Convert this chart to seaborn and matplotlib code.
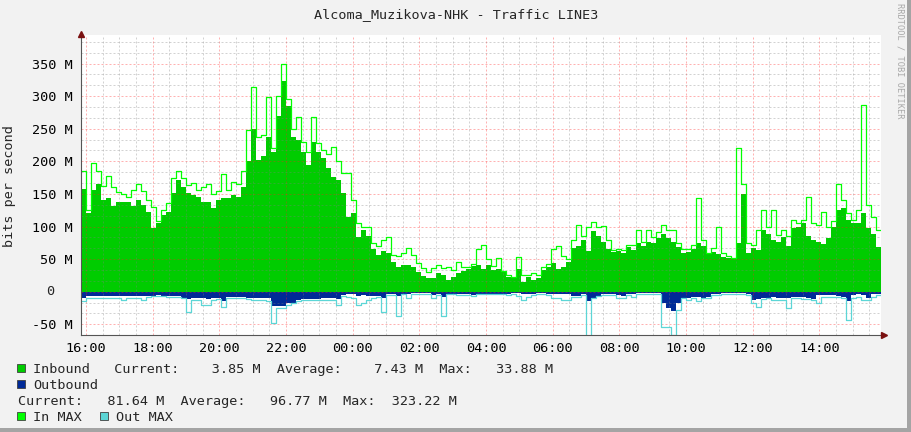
import numpy as np
import pandas as pd
import matplotlib
matplotlib.use("Agg")
import matplotlib.pyplot as plt
import matplotlib.dates as mdates
from matplotlib.ticker import MultipleLocator, FuncFormatter
from matplotlib.patches import Rectangle
import seaborn as sns

# traffic values in Mbit/s, one value per 9 minute step starting 15:51
inbound = [
    158, 120, 156, 165, 140, 144, 132, 138, 138, 138,
    132, 140, 133, 122, 97, 105, 118, 122, 151, 171,
    161, 152, 148, 146, 137, 138, 128, 141, 144, 144,
    148, 146, 160, 200, 250, 202, 208, 238, 215, 270,
    323, 285, 238, 232, 215, 194, 230, 215, 205, 190,
    176, 171, 151, 115, 120, 84, 94, 85, 66, 57,
    62, 60, 45, 38, 41, 41, 38, 30, 24, 21,
    21, 29, 26, 18, 22, 29, 32, 35, 39, 41,
    35, 41, 34, 35, 30, 22, 21, 35, 15, 22,
    18, 21, 34, 38, 44, 35, 38, 46, 67, 70,
    80, 63, 93, 86, 76, 65, 61, 63, 60, 68,
    64, 75, 70, 76, 75, 82, 88, 83, 77, 69,
    59, 61, 66, 74, 70, 58, 61, 58, 53, 51,
    50, 75, 150, 60, 67, 64, 95, 88, 80, 76,
    84, 70, 98, 100, 105, 85, 79, 76, 73, 82,
    100, 125, 128, 110, 105, 105, 120, 97, 88, 68,
]
in_max = [
    185, 125, 198, 185, 162, 177, 160, 153, 150, 146,
    156, 165, 155, 140, 130, 108, 125, 136, 175, 185,
    174, 163, 167, 156, 160, 166, 150, 155, 180, 156,
    168, 166, 185, 248, 314, 238, 240, 299, 220, 300,
    350, 295, 250, 268, 230, 215, 268, 228, 217, 212,
    222, 200, 182, 182, 140, 105, 100, 100, 75, 70,
    80, 84, 56, 55, 60, 67, 56, 44, 36, 31,
    36, 41, 36, 38, 34, 46, 38, 38, 42, 65,
    72, 50, 40, 51, 32, 26, 23, 54, 26, 25,
    28, 26, 38, 42, 65, 70, 55, 50, 80, 102,
    85, 100, 107, 100, 101, 80, 64, 66, 64, 72,
    72, 95, 76, 95, 84, 92, 102, 95, 95, 75,
    65, 66, 72, 144, 80, 60, 67, 100, 60, 55,
    52, 220, 165, 75, 72, 95, 125, 100, 125, 87,
    95, 86, 110, 105, 110, 146, 105, 102, 123, 100,
    108, 166, 141, 120, 110, 125, 286, 133, 115, 95,
]
outbound = [
    -9, -6.5, -6.5, -6.5, -6.5, -6.5, -6.5, -6.5, -6.5, -7,
    -7, -7, -7, -7, -6, -5, -6, -7, -7, -7,
    -9, -11, -9, -9, -10, -11, -9, -9, -14, -8,
    -8, -8, -8, -10, -10, -10, -10, -10, -22, -22,
    -22, -18, -17, -12, -11, -11, -11, -11, -10, -9,
    -9, -11, -5, -4, -4, -6, -5, -6, -7, -6,
    -10, -4, -4, -6, -3, -3, -2.5, -2.5, -2.5, -2.5,
    -5, -4, -8, -3, -3, -4, -4, -3, -5, -3,
    -3, -3, -3, -3, -3, -4, -2, -2, -4, -4,
    -4, -2, -2, -3, -3, -3, -4, -4, -7, -6,
    -4, -14, -9, -6, -4, -4, -3.5, -5, -6, -3.5,
    -3.5, -2.5, -2.5, -2.5, -2.5, -2.5, -18, -25, -30, -18,
    -9, -10, -8, -8, -9, -8, -3.5, -3.5, -2.5, -2.5,
    -2.5, -2.5, -2.5, -4, -13, -11, -10, -9, -8, -10,
    -10, -10, -8, -8, -8, -10, -11, -5, -5, -5,
    -5, -7, -8, -15, -5, -4, -5, -10, -4, -4,
]
out_max = [
    -15, -9, -9, -9, -9, -9, -9, -10, -12, -10,
    -10, -10, -12, -8, -7, -7, -7, -8, -8, -8,
    -10, -31, -13, -13, -20, -20, -13, -11, -24, -9,
    -9, -9, -10, -11, -13, -13, -13, -15, -48, -25,
    -25, -20, -18, -14, -13, -13, -13, -12, -12, -12,
    -12, -20, -7, -8, -10, -20, -18, -13, -10, -8,
    -31, -5, -5, -38, -4, -10, -3.5, -3.5, -3.5, -3.5,
    -10, -5, -38, -4, -4, -5, -5, -5, -6, -4,
    -4, -4, -4, -4, -4, -5, -3, -6, -13, -8,
    -5, -3, -3, -5, -10, -10, -13, -13, -8, -8,
    -5, -69, -10, -7, -5, -5, -4.5, -10, -10, -4.5,
    -7.7, -3.5, -3.5, -3.5, -3.5, -3.5, -54, -54, -67, -28,
    -10, -13, -9, -15, -10, -9, -4.5, -4.5, -3.5, -3.5,
    -3.5, -3.5, -3.5, -5, -18, -23, -11, -10, -13, -13,
    -13, -25, -10, -9, -11, -11, -12, -18, -8, -8,
    -8, -8, -9, -43, -10, -8, -13, -13, -8, -5,
]

title = "Alcoma_Muzikova-NHK - Traffic LINE3"
legend_rows = [
    "Inbound   Current:    3.85 M  Average:    7.43 M  Max:   33.88 M",
    "Outbound",
    "Current:   81.64 M  Average:   96.77 M  Max:  323.22 M",
]

W, H = 911, 432
BACK = "#F2F2F2"
IN_COLOR = "#00CC00"
OUT_COLOR = "#002A97"
INMAX_COLOR = "#00FF00"
OUTMAX_COLOR = "#5CD6D6"
FONT = 9.7


def fx(px):
    return px / W


def fy(py):
    return 1 - py / H


sns.set_style("white")
plt.rcParams["font.family"] = ["DejaVu Sans Mono"]

times = pd.date_range("2024-01-01 15:51", periods=len(inbound) + 1, freq="9min")


def pad(vals):
    return np.append(np.asarray(vals, dtype=float), vals[-1])


fig = plt.figure(figsize=(W / 100, H / 100), dpi=100, facecolor=BACK)
ax = fig.add_axes([fx(81), fy(335), 800 / W, 300 / H])
ax.set_facecolor("white")

ax.fill_between(times, pad(inbound), 0, step="post", color=IN_COLOR, lw=0, zorder=1)
ax.fill_between(times, pad(outbound), 0, step="post", color=OUT_COLOR, lw=0, zorder=1)
sns.lineplot(x=times, y=pad(in_max), drawstyle="steps-post", color=INMAX_COLOR,
             linewidth=0.9, ax=ax, zorder=3)
sns.lineplot(x=times, y=pad(out_max), drawstyle="steps-post", color=OUTMAX_COLOR,
             linewidth=0.9, ax=ax, zorder=3)

ax.set_xlim(times[0], times[-1])
ax.set_ylim(-66.4, 393.8)

ax.xaxis.set_major_locator(mdates.HourLocator(byhour=range(0, 24, 2)))
ax.xaxis.set_minor_locator(mdates.MinuteLocator(byminute=[0, 30]))
ax.xaxis.set_major_formatter(mdates.DateFormatter("%H:%M"))
ax.yaxis.set_major_locator(MultipleLocator(50))
ax.yaxis.set_minor_locator(MultipleLocator(50 / 3))
ax.yaxis.set_major_formatter(FuncFormatter(
    lambda v, p: "" if abs(v) < 1e-9 else "%d M" % round(v)))
# rrdtool pads the zero label, so it sits further left
ax.annotate("0", xy=(0, 0), xycoords=("axes fraction", "data"),
            xytext=(-19, 0), textcoords="offset points", ha="right",
            va="center", fontsize=FONT)

ax.set_axisbelow(False)
ax.grid(which="minor", color="#808080", alpha=0.35, lw=0.72, ls=(0, (2, 2)))
ax.grid(which="major", color="#FF2020", alpha=0.35, lw=0.72, ls=(0, (2, 2)))

for s in ["top", "right"]:
    ax.spines[s].set_visible(False)
for s in ["left", "bottom"]:
    ax.spines[s].set_color("#555555")
    ax.spines[s].set_linewidth(0.8)
    ax.spines[s].set_zorder(4)

ax.tick_params(which="major", length=2.5, width=0.7, color="#555555",
               labelsize=FONT, labelcolor="black")
ax.tick_params(which="minor", length=1.5, width=0.7, color="#555555")
ax.tick_params(axis="x", which="major", pad=2.5)
ax.tick_params(axis="y", which="major", pad=3.5)
ax.set_xlabel("")
ax.set_ylabel("")

# axis arrows
ax.plot([0], [1.005], marker="^", ms=4, color="#7A1010", transform=ax.transAxes,
        clip_on=False, zorder=5)
ax.plot([1.004], [0], marker=">", ms=4, color="#7A1010", transform=ax.transAxes,
        clip_on=False, zorder=5)

fig.text(fx(456), fy(18), title, ha="center", va="baseline", fontsize=FONT)
fig.text(fx(10), fy(186), "bits per second", rotation=90, ha="center",
         va="center", fontsize=FONT)
fig.text(fx(900), fy(61), "RRDTOOL / TOBI OETIKER", rotation=270, ha="center",
         va="center", fontsize=6.2, color="#A8A8A8")


# legend
def swatch(x, y, color):
    fig.add_artist(Rectangle((fx(x), fy(y + 8)), 8 / W, 8 / H, transform=fig.transFigure,
                             facecolor=color, edgecolor="#404040", lw=0.6))


swatch(16.5, 363.5, IN_COLOR)
fig.text(fx(33.3), fy(373), legend_rows[0], va="baseline", fontsize=FONT)
swatch(16.5, 379.5, OUT_COLOR)
fig.text(fx(33.3), fy(389), legend_rows[1], va="baseline", fontsize=FONT)
fig.text(fx(17.5), fy(405), legend_rows[2], va="baseline", fontsize=FONT)
swatch(16.5, 411.5, INMAX_COLOR)
fig.text(fx(33.3), fy(421), "In MAX", va="baseline", fontsize=FONT)
swatch(99.5, 411.5, OUTMAX_COLOR)
fig.text(fx(115.8), fy(421), "Out MAX", va="baseline", fontsize=FONT)

# frame shading
fig.add_artist(Rectangle((fx(907), 0), 4 / W, 1, transform=fig.transFigure,
                         facecolor="#A4A4A4", lw=0))
fig.add_artist(Rectangle((0, 0), 1, 4 / H, transform=fig.transFigure,
                         facecolor="#A4A4A4", lw=0))

fig.savefig("out.png", dpi=100, facecolor=BACK)
